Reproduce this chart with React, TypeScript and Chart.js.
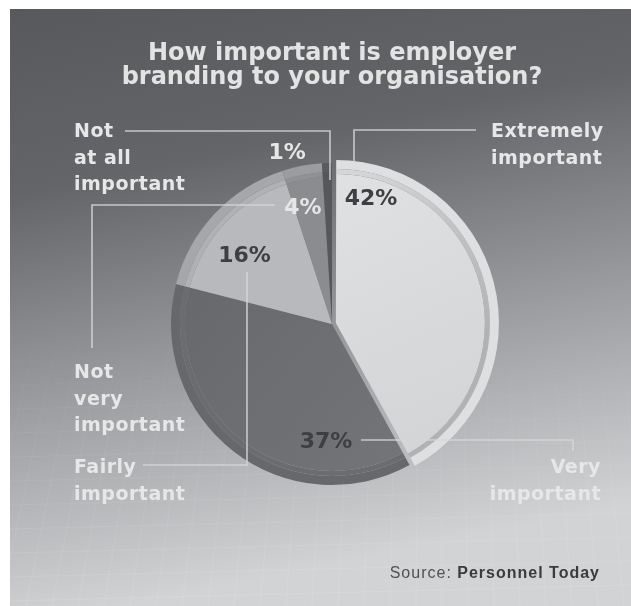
import React, { useEffect, useRef } from "react";
import { Chart, registerables } from "chart.js";

Chart.register(...registerables);

// ---------- data ----------
const categories = [
  "Extremely important",
  "Very important",
  "Fairly important",
  "Not very important",
  "Not at all important",
];
const values = [42, 37, 16, 4, 1];

// ---------- styling ----------
const innerColors = ["#d9dadc", "#6e6f72", "#b8b9bc", "#8b8c8f", "#56575b"];
const lineColors = ["#b3b4b6", "#6b6c6f", "#b0b1b4", "#909194", "#55565a"];
const rimColors = ["#dedfe1", "#67686b", "#a6a7aa", "#9b9c9f", "#5a5b5e"];
const sliceOffsets = [16, 0, 0, 0, 0];
const pctColors = ["#3e3f42", "#3e3f42", "#3e3f42", "#e6e6e7", "#e6e6e7"];

const titleLines = ["How important is employer", "branding to your organisation?"];
const sourcePrefix = "Source: ";
const sourceName = "Personnel Today";

// page offset of the canvas
const OX = 10;
const OY = 9;
const W = 621;
const H = 597;
const PIE_RADIUS = 161;
const FONT = "'DejaVu Sans'";

// percentage label placement: [angle clockwise from top (deg), radius fraction]
const pctPolar: [number, number][] = [
  [17.2, 0.82],
  [182.9, 0.73],
  [308.1, 0.69],
  [346.1, 0.75],
  [345.3, 1.1],
];

// category label layout (page coords, first baseline)
const catLines = [
  ["Extremely", "important"],
  ["Very", "important"],
  ["Fairly", "important"],
  ["Not", "very", "important"],
  ["Not", "at all", "important"],
];
const catPos: [number, number, CanvasTextAlign][] = [
  [491, 137, "left"],
  [601, 473, "right"],
  [74, 473, "left"],
  [74, 378, "left"],
  [74, 137, "left"],
];

// leader lines (page coords)
const leaders: [number, number][][] = [
  [[476, 130], [354, 130], [354, 162]],
  [[361, 440], [573, 440], [573, 451]],
  [[143, 465], [247, 465], [247, 272]],
  [[275, 205], [92, 205], [92, 348]],
  [[125, 131], [330, 131], [330, 180]],
];

const decorPlugin = {
  id: "decor",
  beforeDraw(chart: any) {
    const ctx: CanvasRenderingContext2D = chart.ctx;
    ctx.save();
    const g = ctx.createLinearGradient(0, 0, 120, H);
    g.addColorStop(0, "#58595c");
    g.addColorStop(0.3, "#646568");
    g.addColorStop(0.65, "#9c9da0");
    g.addColorStop(1, "#d2d3d5");
    ctx.fillStyle = g;
    ctx.fillRect(0, 0, W, H);
    // faint perspective grid on the lower part
    const sg = ctx.createLinearGradient(0, 300, 0, H);
    sg.addColorStop(0, "rgba(255,255,255,0)");
    sg.addColorStop(1, "rgba(255,255,255,0.1)");
    ctx.strokeStyle = sg;
    ctx.lineWidth = 1;
    const vx = 420, vy = -1400;
    for (let bx = -400; bx <= 1100; bx += 26) {
      ctx.beginPath();
      const t = (300 - vy) / (H - vy);
      ctx.moveTo(vx + (bx - vx) * t, 300);
      ctx.lineTo(bx, H);
      ctx.stroke();
    }
    for (let y = 320; y <= H + 10; y += 24) {
      ctx.beginPath();
      ctx.moveTo(0, y + 8);
      ctx.lineTo(W, y - 8);
      ctx.stroke();
    }
    ctx.restore();
  },
  afterDatasetsDraw(chart: any) {
    const ctx: CanvasRenderingContext2D = chart.ctx;
    ctx.save();
    // leader lines
    ctx.strokeStyle = "rgba(214,215,217,0.85)";
    ctx.lineWidth = 1.6;
    leaders.forEach((pts) => {
      ctx.beginPath();
      pts.forEach(([x, y], i) => {
        if (i === 0) ctx.moveTo(x - OX, y - OY);
        else ctx.lineTo(x - OX, y - OY);
      });
      ctx.stroke();
    });

    // title
    ctx.fillStyle = "#e3e3e4";
    ctx.textAlign = "center";
    ctx.textBaseline = "alphabetic";
    (ctx as any).letterSpacing = "0px";
    ctx.font = `700 24px ${FONT}`;
    ctx.fillText(titleLines[0], 332 - OX, 60 - OY);
    ctx.fillText(titleLines[1], 332 - OX, 84 - OY);

    // category labels
    ctx.font = `700 19px ${FONT}`;
    (ctx as any).letterSpacing = "0.5px";
    ctx.fillStyle = "#e7e7e8";
    catLines.forEach((lines, i) => {
      const [x, y, align] = catPos[i];
      ctx.textAlign = align;
      lines.forEach((ln, j) => {
        ctx.fillText(ln, x - OX, y - OY + j * 26.5);
      });
    });

    // percentage labels from the arcs
    const meta = chart.getDatasetMeta(2);
    (ctx as any).letterSpacing = "0px";
    ctx.font = `700 22px ${FONT}`;
    ctx.textAlign = "center";
    ctx.textBaseline = "middle";
    meta.data.forEach((arc: any, i: number) => {
      const [deg, fr] = pctPolar[i];
      const a = (deg * Math.PI) / 180;
      const r = PIE_RADIUS * fr;
      const x = arc.x + Math.sin(a) * r;
      const y = arc.y - Math.cos(a) * r;
      ctx.fillStyle = pctColors[i];
      ctx.fillText(values[i] + "%", x, y + 1);
    });

    // source
    ctx.textBaseline = "alphabetic";
    ctx.textAlign = "left";
    (ctx as any).letterSpacing = "1px";
    ctx.font = "700 16px 'Liberation Sans'";
    const wName = ctx.measureText(sourceName).width;
    ctx.font = "400 16px 'Liberation Sans'";
    const wPre = ctx.measureText(sourcePrefix).width;
    const right = 600 - OX;
    ctx.fillStyle = "#505154";
    ctx.fillText(sourcePrefix, right - wName - wPre, 578 - OY);
    ctx.font = "700 16px 'Liberation Sans'";
    ctx.fillStyle = "#3a3b3d";
    ctx.fillText(sourceName, right - wName, 578 - OY);
    ctx.restore();
  },
};

export default function App() {
  const ref = useRef<HTMLCanvasElement | null>(null);
  useEffect(() => {
    if (!ref.current) return;
    const common = { data: values, radius: PIE_RADIUS, borderWidth: 0, offset: sliceOffsets };
    const lineColor = (c: any) => {
      const i = c.dataIndex;
      if (i !== 0) return lineColors[i];
      const area = c.chart.chartArea;
      if (!area) return lineColors[i];
      const cy = (area.top + area.bottom) / 2;
      const cx = (area.left + area.right) / 2;
      const g = c.chart.ctx.createLinearGradient(cx, cy - PIE_RADIUS, cx + 60, cy + 40);
      g.addColorStop(0, "#d8d9db");
      g.addColorStop(0.45, "#c2c3c5");
      g.addColorStop(1, "#b1b2b4");
      return g;
    };
    const innerColor = (c: any) => {
      const i = c.dataIndex;
      const area = c.chart.chartArea;
      if (!area) return innerColors[i];
      const cy = (area.top + area.bottom) / 2;
      const cx = (area.left + area.right) / 2;
      if (i === 0) {
        const g = c.chart.ctx.createLinearGradient(cx, cy - PIE_RADIUS, cx + 120, cy + 120);
        g.addColorStop(0, "#e0e1e3");
        g.addColorStop(1, "#d3d4d6");
        return g;
      }
      if (i === 1) {
        const g = c.chart.ctx.createLinearGradient(cx - PIE_RADIUS, cy, cx + 40, cy + PIE_RADIUS);
        g.addColorStop(0, "#68696c");
        g.addColorStop(1, "#737477");
        return g;
      }
      return innerColors[i];
    };
    const chart = new Chart(ref.current, {
      type: "pie",
      data: {
        labels: categories,
        datasets: [
          { ...common, backgroundColor: rimColors, weight: 9 } as any,
          { ...common, backgroundColor: lineColor, weight: 5 } as any,
          { ...common, backgroundColor: innerColor, weight: 147 } as any,
        ],
      },
      options: {
        responsive: false,
        animation: false,
        devicePixelRatio: 1,
        events: [],
        layout: { padding: { left: 23, top: 33, right: 0, bottom: 0 } },
        plugins: {
          legend: { display: false },
          tooltip: { enabled: false },
          title: { display: false },
        },
      },
      plugins: [decorPlugin],
    });
    return () => chart.destroy();
  }, []);
  return (
    <div style={{ position: "absolute", left: OX, top: OY, width: W, height: H }}>
      <canvas ref={ref} width={W} height={H} style={{ width: W, height: H, display: "block" }} />
    </div>
  );
}
